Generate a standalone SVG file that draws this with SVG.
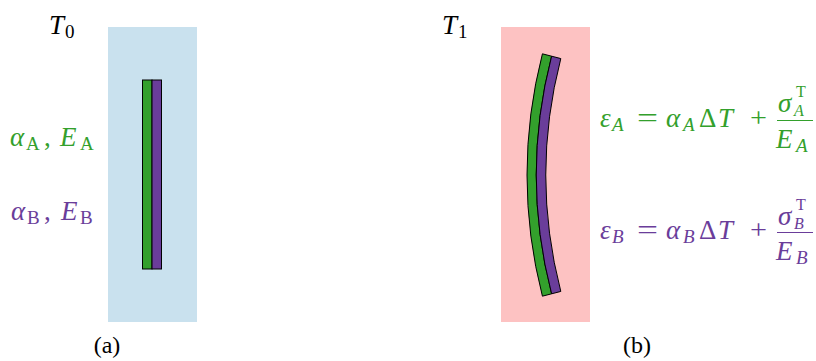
<svg xmlns="http://www.w3.org/2000/svg" width="816" height="361" viewBox="0 0 816 361">
<style>
text{font-family:"Liberation Serif","Times New Roman",serif;font-size:27px}
.i{font-style:italic}
.s{font-size:19px}
.ss{font-size:16px}
.g{fill:#33a02c}
.p{fill:#6a3d9a}
.k{fill:#000}
.bar{stroke:#000;stroke-width:1}
.m{text-anchor:middle}
.lbl{font-size:24px}
</style>
<g id="panel-a">
<rect x="108" y="27" width="89" height="295" fill="#c9e1ee"/>
<rect class="bar" x="142.5" y="80" width="9.5" height="189" fill="#33a02c"/>
<rect class="bar" x="152" y="80" width="9.5" height="189" fill="#6a3d9a"/>
<text class="k"><tspan class="i" x="49" y="34" font-size="27">T</tspan><tspan class="s" x="65" y="38">0</tspan></text>
<text class="g"><tspan class="i" x="10" y="146">α</tspan><tspan class="s" x="26" y="150">A</tspan><tspan x="44" y="146">,</tspan><tspan class="i" x="60" y="146">E</tspan><tspan class="s" x="80" y="150">A</tspan></text>
<text class="p"><tspan class="i" x="11" y="219.5">α</tspan><tspan class="s" x="27" y="223.5">B</tspan><tspan x="44" y="219.5">,</tspan><tspan class="i" x="61" y="219.5">E</tspan><tspan class="s" x="80" y="223.5">B</tspan></text>
<text class="k m lbl" x="107" y="353">(a)</text>
</g>
<g id="panel-b">
<rect x="501" y="27" width="89" height="295" fill="#fdc2c2"/>
<path class="bar" fill="#33a02c" d="M542.42 53.82 A484 484 0 0 0 542.42 296.18 L551.61 293.81 A474.5 474.5 0 0 1 551.61 56.19 Z"/>
<path class="bar" fill="#6a3d9a" d="M551.61 56.19 A474.5 474.5 0 0 0 551.61 293.81 L560.81 291.43 A465 465 0 0 1 560.81 58.57 Z"/>
<text class="k"><tspan class="i" x="442" y="34" font-size="27">T</tspan><tspan class="s" x="458" y="38">1</tspan></text>
<text class="k m lbl" x="637" y="353">(b)</text>
</g>
<g id="eq-a" class="g">
<text><tspan class="i" x="600" y="127">ε</tspan><tspan class="i s" x="612" y="131">A</tspan></text>
<text x="637" y="127" textLength="21" lengthAdjust="spacingAndGlyphs">=</text>
<text><tspan class="i" x="666" y="127">α</tspan><tspan class="i s" x="683" y="131">A</tspan><tspan x="699" y="127">Δ</tspan><tspan class="i" x="718" y="127">T</tspan></text>
<text x="750" y="127" textLength="17" lengthAdjust="spacingAndGlyphs">+</text>
<text class="i" x="778" y="112">σ</text>
<text class="ss" x="796" y="97">T</text>
<text class="i ss" x="794" y="116">A</text>
<line x1="777" y1="120.5" x2="813" y2="120.5" stroke="#33a02c" stroke-width="1"/>
<text><tspan class="i" x="776" y="148">E</tspan><tspan class="i s" x="796" y="152">A</tspan></text>
</g>
<g id="eq-b" class="p">
<text><tspan class="i" x="600" y="239">ε</tspan><tspan class="i s" x="612" y="243">B</tspan></text>
<text x="637" y="239" textLength="21" lengthAdjust="spacingAndGlyphs">=</text>
<text><tspan class="i" x="666" y="239">α</tspan><tspan class="i s" x="683" y="243">B</tspan><tspan x="699" y="239">Δ</tspan><tspan class="i" x="718" y="239">T</tspan></text>
<text x="750" y="239" textLength="17" lengthAdjust="spacingAndGlyphs">+</text>
<text class="i" x="778" y="225">σ</text>
<text class="ss" x="796" y="210">T</text>
<text class="i ss" x="794" y="229">B</text>
<line x1="777" y1="232.5" x2="813" y2="232.5" stroke="#6a3d9a" stroke-width="1"/>
<text><tspan class="i" x="776" y="260">E</tspan><tspan class="i s" x="796" y="264">B</tspan></text>
</g>
</svg>
